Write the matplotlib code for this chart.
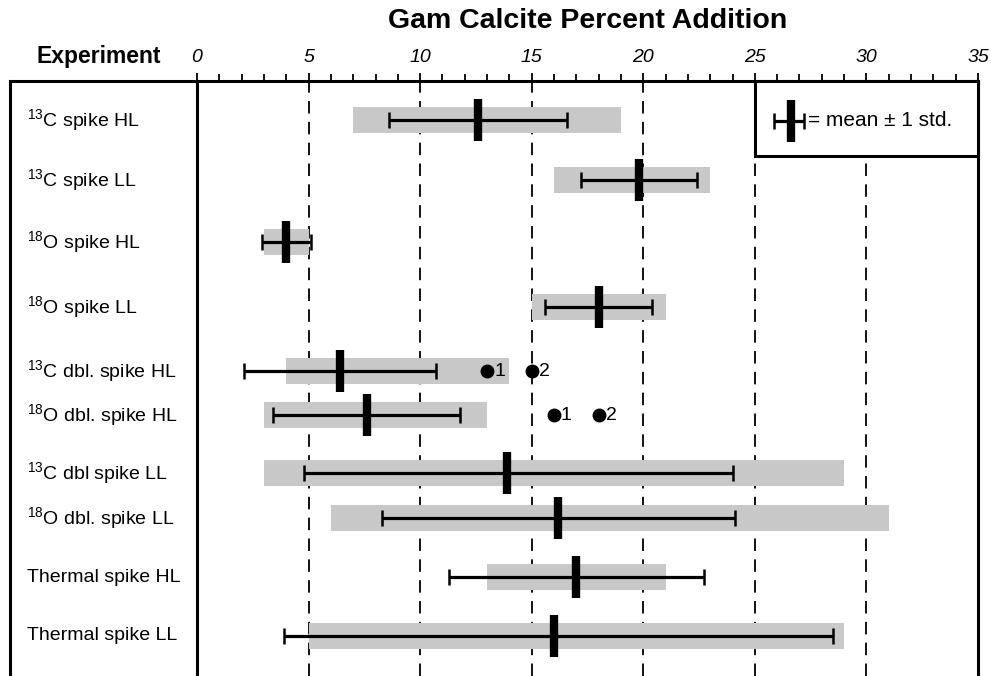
import matplotlib
matplotlib.use("Agg")
import matplotlib.pyplot as plt
from matplotlib.patches import Rectangle

# ---------------- data ----------------
experiments = [r"$\mathregular{^{13}}$C spike HL", r"$\mathregular{^{13}}$C spike LL",
               r"$\mathregular{^{18}}$O spike HL", r"$\mathregular{^{18}}$O spike LL",
               r"$\mathregular{^{13}}$C dbl. spike HL", r"$\mathregular{^{18}}$O dbl. spike HL",
               r"$\mathregular{^{13}}$C dbl spike LL", r"$\mathregular{^{18}}$O dbl. spike LL",
               "Thermal spike HL", "Thermal spike LL"]
range_min = [7.0, 16.0, 3.0, 15.0, 4.0, 3.0, 3.0, 6.0, 13.0, 5.0]
range_max = [19.0, 23.0, 5.0, 21.0, 14.0, 13.0, 29.0, 31.0, 21.0, 29.0]
means = [12.6, 19.8, 4.0, 18.0, 6.4, 7.6, 13.9, 16.2, 17.0, 16.0]
std_low = [8.6, 17.2, 2.9, 15.6, 2.1, 3.4, 4.8, 8.3, 11.3, 3.9]
std_high = [16.6, 22.4, 5.1, 20.4, 10.7, 11.8, 24.0, 24.1, 22.7, 28.5]
# individual points (row index, value, label)
point_rows = [4, 4, 5, 5]
point_vals = [13.0, 15.0, 16.0, 18.0]
point_labels = ["1", "2", "1", "2"]

major_ticks = [0, 5, 10, 15, 20, 25, 30, 35]

# ---------------- layout ----------------
W, H = 991, 676
row_y = [120, 180, 242, 307, 371, 415, 473, 518, 577, 636]  # pixel rows
FONT = ["Liberation Sans", "DejaVu Sans"]
plt.rcParams["font.family"] = FONT
plt.rcParams["mathtext.fontset"] = "custom"
plt.rcParams["mathtext.rm"] = "Liberation Sans"
plt.rcParams["lines.scale_dashes"] = False

fig = plt.figure(figsize=(W / 100, H / 100), dpi=100)
x0, x1, ytop = 197, 978, 81
ax = fig.add_axes([x0 / W, 0, (x1 - x0) / W, (H - ytop) / H])
ax.set_xlim(0, 35)
ax.set_ylim(H, ytop)
for s in ["top", "left", "right"]:
    ax.spines[s].set_linewidth(2.2)
ax.spines["bottom"].set_visible(False)
ax.xaxis.tick_top()
ax.set_xticks(major_ticks)
ax.set_xticks(range(0, 36), minor=True)
ax.tick_params(axis="x", which="both", direction="out", width=1.3, pad=5,
               labelsize=14)
ax.tick_params(axis="x", which="major", length=6)
ax.tick_params(axis="x", which="minor", length=5)
ax.set_yticks([])
for lbl in ax.get_xticklabels():
    lbl.set_fontstyle("italic")

legend_bottom = 156
frac_leg = (H - legend_bottom) / (H - ytop)
for xv in [5, 10, 15, 20]:
    ax.axvline(xv, color="black", lw=1.3, dashes=(9, 6), zorder=1)
for xv in [25, 30]:
    ax.axvline(xv, ymax=frac_leg, color="black", lw=1.3, dashes=(9, 6), zorder=1)

# gray ranges
widths = [b - a for a, b in zip(range_min, range_max)]
ax.barh(row_y, widths, left=range_min, height=26, color="#c8c8c8", zorder=2)
# std whiskers
xerr = [[m - lo for m, lo in zip(means, std_low)], [hi - m for m, hi in zip(means, std_high)]]
ax.errorbar(means, row_y, xerr=xerr, fmt="none", ecolor="black", elinewidth=2.3,
            capsize=5.5, capthick=1.8, zorder=3)
# mean bars
ax.plot(means, row_y, linestyle="none", marker="|", markersize=30, mew=6,
        color="black", zorder=4)
# points
for r, v, t in zip(point_rows, point_vals, point_labels):
    ax.plot(v, row_y[r], "o", color="black", markersize=9, zorder=4)
    ax.annotate(t, (v, row_y[r]), xytext=(5, 0), textcoords="offset points",
                va="center", ha="left", fontsize=14)

# legend box
ax.add_patch(Rectangle((25, ytop), 10, legend_bottom - ytop, facecolor="white",
                       edgecolor="black", lw=2.2, zorder=5, clip_on=False))
ly = 121
ax.errorbar([26.6], [ly], xerr=[[0.74], [0.6]], fmt="none", ecolor="black",
            elinewidth=2.3, capsize=5.5, capthick=1.8, zorder=6)
ax.plot([26.6], [ly], marker="|", markersize=30, mew=6, color="black", zorder=7)
ax.text(27.4, ly, "= mean \u00b1 1 std.", va="center", ha="left", fontsize=15,
        zorder=7)

# label column frame
axl = fig.add_axes([10 / W, 0, (x0 - 10) / W, (H - ytop) / H])
axl.set_xlim(0, 1)
axl.set_ylim(H, ytop)
axl.set_xticks([])
axl.set_yticks([])
for s in ["right", "bottom"]:
    axl.spines[s].set_visible(False)
for s in ["top", "left"]:
    axl.spines[s].set_linewidth(2.2)
axl.patch.set_alpha(0)
for name, y in zip(experiments, row_y):
    axl.text((27 - 10) / (x0 - 10), y, name, va="center", ha="left", fontsize=14)

fig.text(99 / W, 1 - 57 / H, "Experiment", ha="center", va="center",
         fontsize=16.5, fontweight="bold")
fig.text((x0 + x1) / 2 / W, 1 - 21 / H, "Gam Calcite Percent Addition",
         ha="center", va="center", fontsize=20.5, fontweight="bold")

fig.savefig("out.png", dpi=100)
